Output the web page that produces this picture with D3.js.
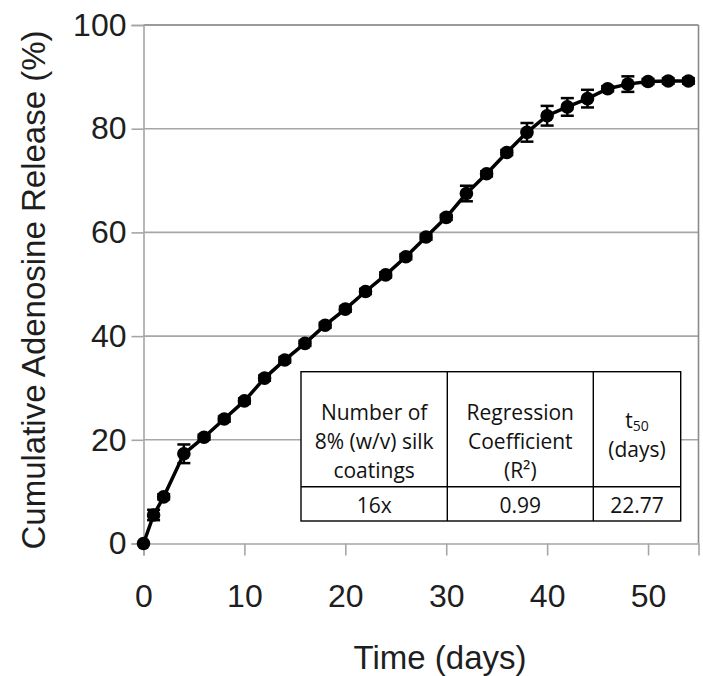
<!DOCTYPE html>
<html>
<head>
<meta charset="utf-8">
<script src="https://cdn.jsdelivr.net/npm/d3@7/dist/d3.min.js"></script>
<style>
  html, body { margin: 0; padding: 0; background: #fff; }
  svg { display: block; }
</style>
</head>
<body>
<svg id="chart" width="703" height="676"></svg>
<script>
// ---- Data ----
const days = [0, 1, 2, 4, 6, 8, 10, 12, 14, 16, 18, 20, 22, 24, 26, 28, 30, 32, 34, 36, 38, 40, 42, 44, 46, 48, 50, 52, 54];
const release = [0, 5.5, 9.0, 17.3, 20.5, 24.0, 27.5, 31.9, 35.4, 38.6, 42.1, 45.2, 48.6, 51.8, 55.3, 59.1, 62.9, 67.5, 71.3, 75.4, 79.3, 82.5, 84.2, 85.8, 87.7, 88.6, 89.1, 89.2, 89.2];
const errors = [0, 1.0, 0.5, 1.8, 0.5, 0.5, 0.5, 0.5, 0.5, 0.5, 0.5, 0.5, 0.5, 0.5, 0.5, 0.5, 0.5, 1.5, 0.5, 0.5, 1.8, 1.9, 1.7, 1.7, 0.5, 1.5, 0.5, 0.5, 0.5];
const xTicks = [0, 10, 20, 30, 40, 50];
const yTicks = [0, 20, 40, 60, 80, 100];
const tableHeader = [["Number of", "8% (w/v) silk", "coatings"], ["Regression", "Coefficient", "(R²)"], ["t50", "(days)"]];
const tableRow = ["16x", "0.99", "22.77"];
const xTitle = "Time (days)";
const yTitle = "Cumulative Adenosine Release (%)";

(function () {
// ---- Layout ----
const svg = d3.select("#chart");
const pL = 143.5, pR = 698.5, pT = 25, pB = 543.5;
const x = d3.scaleLinear().domain([0, 55]).range([pL, pR]);
const y = d3.scaleLinear().domain([0, 100]).range([pB, pT]);
const gridColor = "#a6a6a6";
const axisFont = "'Liberation Sans', Arial, sans-serif";
const textColor = "#1e1e1e";

// gridlines
svg.append("g").selectAll("line").data(yTicks.filter(d => d > 0)).join("line")
  .attr("x1", pL).attr("x2", pR)
  .attr("y1", d => y(d)).attr("y2", d => y(d))
  .attr("stroke", d => d === 100 ? "#7a7a7a" : gridColor).attr("stroke-width", 1.6);

// right border
svg.append("line").attr("x1", pR).attr("x2", pR).attr("y1", pT).attr("y2", pB)
  .attr("stroke", "#8a8a8a").attr("stroke-width", 1.6);

// y axis
const yAxis = svg.append("g").attr("transform", `translate(${pL},0)`)
  .call(d3.axisLeft(y).tickValues(yTicks).tickSize(12).tickPadding(5).tickFormat(d3.format("d")));
yAxis.select(".domain").attr("stroke", gridColor).attr("stroke-width", 1.6);
yAxis.selectAll(".tick line").attr("stroke", gridColor).attr("stroke-width", 1.6);
yAxis.selectAll("text").attr("font-family", axisFont).attr("font-size", 32).attr("fill", textColor);

// x axis
const xAxis = svg.append("g").attr("transform", `translate(0,${pB})`)
  .call(d3.axisBottom(x).tickValues(xTicks).tickSize(12).tickPadding(29).tickFormat(d3.format("d")));
xAxis.select(".domain").attr("stroke", gridColor).attr("stroke-width", 1.6);
xAxis.selectAll(".tick line").attr("stroke", gridColor).attr("stroke-width", 1.6);
xAxis.selectAll("text").attr("font-family", axisFont).attr("font-size", 32).attr("fill", textColor);

// titles
svg.append("text").attr("x", 440).attr("y", 669).attr("text-anchor", "middle")
  .attr("font-family", axisFont).attr("font-size", 33).attr("fill", textColor).text(xTitle);
svg.append("text").attr("transform", `translate(45,290) rotate(-90)`)
  .attr("text-anchor", "middle").attr("font-family", axisFont).attr("font-size", 33).attr("fill", textColor).text(yTitle);

// data
const pts = days.map((d, i) => ({ d, v: release[i], e: errors[i] }));
svg.append("path").datum(pts)
  .attr("d", d3.line().x(p => x(p.d)).y(p => y(p.v)))
  .attr("fill", "none").attr("stroke", "#000").attr("stroke-width", 3.5);

const eb = svg.append("g").attr("stroke", "#000").attr("stroke-width", 2.5);
pts.filter(p => p.e > 0).forEach(p => {
  eb.append("line").attr("x1", x(p.d)).attr("x2", x(p.d)).attr("y1", y(p.v - p.e)).attr("y2", y(p.v + p.e));
  [p.v - p.e, p.v + p.e].forEach(v => eb.append("line")
    .attr("x1", x(p.d) - 6.5).attr("x2", x(p.d) + 6.5).attr("y1", y(v)).attr("y2", y(v)));
});

svg.append("g").selectAll("circle").data(pts).join("circle")
  .attr("cx", p => x(p.d)).attr("cy", p => y(p.v)).attr("r", 6.8).attr("fill", "#000");

// table
const tFont = "'Open Sans', 'Noto Sans', sans-serif";
const tx = [301, 447.3, 593.3, 680.7];
const tTop = 371.7, tMid = 486.7, tBot = 521;
const tg = svg.append("g");
tg.append("rect").attr("x", tx[0]).attr("y", tTop).attr("width", tx[3] - tx[0]).attr("height", tBot - tTop)
  .attr("fill", "#fff").attr("stroke", "#000").attr("stroke-width", 1.4);
tg.append("line").attr("x1", tx[0]).attr("x2", tx[3]).attr("y1", tMid).attr("y2", tMid).attr("stroke", "#000").attr("stroke-width", 1.4);
[tx[1], tx[2]].forEach(cx => tg.append("line").attr("x1", cx).attr("x2", cx).attr("y1", tTop).attr("y2", tBot).attr("stroke", "#000").attr("stroke-width", 1.4));

tableHeader.forEach((lines, c) => {
  const cx = (tx[c] + tx[c + 1]) / 2;
  const n = lines.length;
  const lh = 29;
  const midY = (tTop + tMid) / 2;
  const off = n === 3 ? 20 : 13.5;
  lines.forEach((ln, k) => {
    const ty = midY + (k - (n - 1) / 2) * lh + off;
    const t = tg.append("text").attr("x", cx).attr("y", ty).attr("text-anchor", "middle")
      .attr("font-family", tFont).attr("font-size", 21).attr("fill", "#111");
    if (ln === "t50") {
      t.append("tspan").text("t");
      t.append("tspan").attr("font-size", 14).attr("dy", 3).text("50");
    } else {
      t.text(ln);
    }
  });
});
tableRow.forEach((v, c) => {
  const cx = (tx[c] + tx[c + 1]) / 2;
  tg.append("text").attr("x", cx).attr("y", (tMid + tBot) / 2 + 9).attr("text-anchor", "middle")
    .attr("font-family", tFont).attr("font-size", 21).attr("fill", "#111").text(v);
});
})();
</script>
</body>
</html>
